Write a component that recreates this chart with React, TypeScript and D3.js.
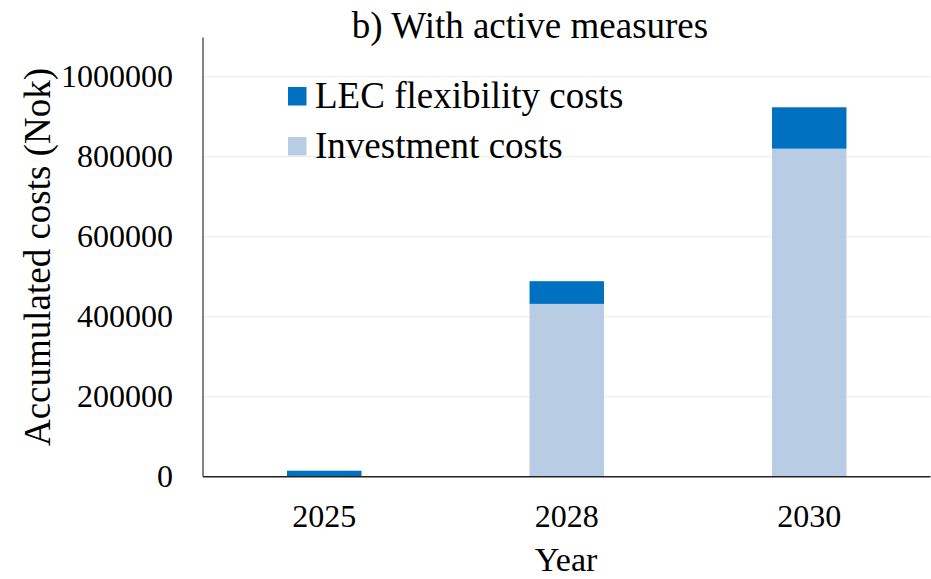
import React from "react";
import * as d3 from "d3";

const years = ["2025", "2028", "2030"];
const lecCosts = [15000, 56750, 103500];
const investmentCosts = [0, 432000, 820000];
const yTicks = [0, 200000, 400000, 600000, 800000, 1000000];
const seriesNames = ["LEC flexibility costs", "Investment costs"];
const seriesColors = ["#0070C0", "#B8CCE4"];

const W = 931;
const H = 579;
const FONT = "'Liberation Serif', 'Times New Roman', serif";

export default function App() {
  const left = 203;
  const right = 930.5;
  const x = d3.scaleBand<string>().domain(years).range([left, right]).paddingInner(0.693).paddingOuter(0.3465);
  const y = d3.scaleLinear().domain([0, 1000000]).range([476.7, 76.7]);

  const rows = years.map((yr, i) => ({ year: yr, inv: investmentCosts[i], lec: lecCosts[i] }));
  const stack = d3.stack<any>().keys(["inv", "lec"])(rows);
  const colorFor: Record<string, string> = { inv: seriesColors[1], lec: seriesColors[0] };

  return (
    <svg width={W} height={H} style={{ position: "absolute", left: 0, top: 0, background: "#fff" }} fontFamily={FONT}>
      {yTicks.slice(1).map((t) => (
        <line key={t} x1={left} x2={right} y1={y(t)} y2={y(t)} stroke="#ebebeb" strokeWidth={1} />
      ))}
      {stack.map((s) =>
        s.map((d, i) =>
          d[1] - d[0] > 0 ? (
            <rect
              key={s.key + i}
              x={x(years[i])}
              width={x.bandwidth()}
              y={y(d[1])}
              height={y(d[0]) - y(d[1])}
              fill={colorFor[s.key]}
            />
          ) : null
        )
      )}
      <line x1={left} x2={left} y1={37.5} y2={y(0)} stroke="#595959" strokeWidth={1.5} />
      <line x1={left} x2={right} y1={y(0)} y2={y(0)} stroke="#222" strokeWidth={1.5} />
      {yTicks.map((t) => (
        <text key={t} x={173} y={y(t) - 1} textAnchor="end" dominantBaseline="central" fontSize={32} fill="#000">
          {t}
        </text>
      ))}
      {years.map((yr) => (
        <text key={yr} x={(x(yr) as number) + x.bandwidth() / 2} y={527} textAnchor="middle" fontSize={32} fill="#000">
          {yr}
        </text>
      ))}
      <text x={566} y={571} textAnchor="middle" fontSize={34} fill="#000">Year</text>
      <text transform={`translate(50,257) rotate(-90)`} textAnchor="middle" fontSize={37} fill="#000">
        Accumulated costs (Nok)
      </text>
      <text x={530} y={38} textAnchor="middle" fontSize={37} fill="#000">b) With active measures</text>
      {seriesNames.map((n, i) => (
        <g key={n} transform={`translate(288,${87 + i * 50})`}>
          <rect x={0} y={0} width={18.5} height={18.5} fill={seriesColors[i]} />
          <text x={27} y={21} fontSize={37} fill="#000">{n}</text>
        </g>
      ))}
    </svg>
  );
}
